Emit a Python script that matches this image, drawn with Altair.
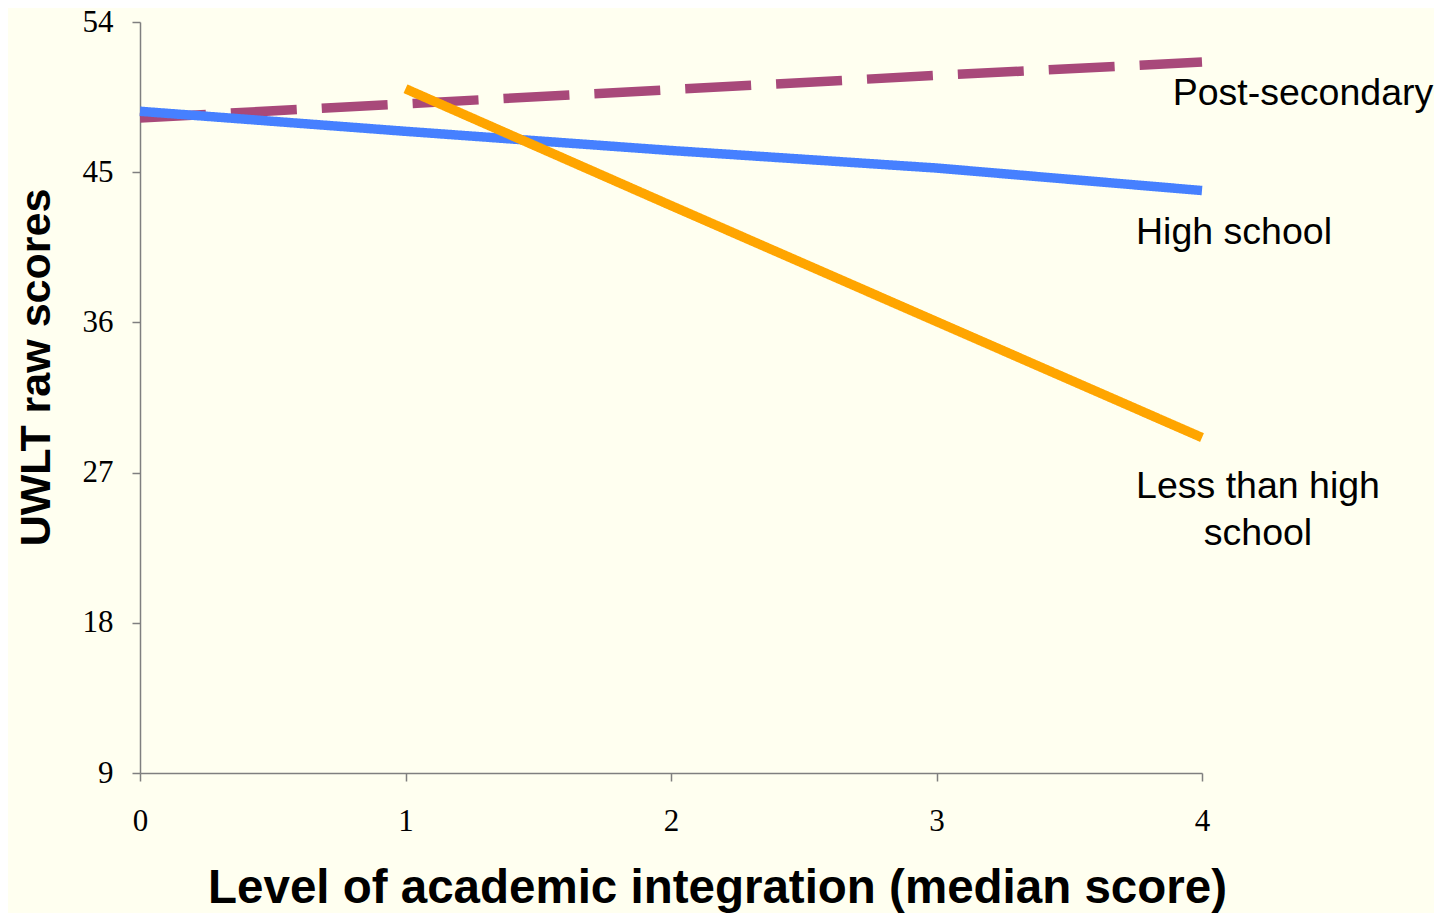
import altair as alt
import pandas as pd

# ---- data ----
x_levels = [0, 1, 2, 3, 4]
post_secondary = [48.25, 49.1, 49.95, 50.8, 51.6]
high_school = [48.65, 47.45, 46.3, 45.25, 43.9]
less_x = [1, 2, 3, 4]
less_than_hs = [50.0, 43.0, 36.05, 29.1]

series_names = ["Post-secondary", "High school", "Less than high school"]
series_colors = ["#A8497A", "#4680FF", "#FFA500"]
y_ticks = [9, 18, 27, 36, 45, 54]
x_ticks = [0, 1, 2, 3, 4]

rows = []
for xv, yv in zip(x_levels, post_secondary):
    rows.append({"x": xv, "y": yv, "series": series_names[0]})
for xv, yv in zip(x_levels, high_school):
    rows.append({"x": xv, "y": yv, "series": series_names[1]})
for xv, yv in zip(less_x, less_than_hs):
    rows.append({"x": xv, "y": yv, "series": series_names[2]})
df = pd.DataFrame(rows)

ends = pd.DataFrame({
    "x": [x_levels[-1], x_levels[-1], less_x[-1], less_x[-1]],
    "y": [post_secondary[-1], high_school[-1], less_than_hs[-1], less_than_hs[-1]],
    "label": ["Post-secondary", "High school", "Less than high", "school"],
})

xs = alt.Scale(domain=[0, 4], nice=False, zero=False)
ys = alt.Scale(domain=[9, 54], nice=False, zero=False)

lines = alt.Chart(df).mark_line(strokeWidth=9.5, clip=False).encode(
    x=alt.X("x:Q", scale=xs,
            axis=alt.Axis(values=x_ticks, format="d",
                          title="Level of academic integration (median score)",
                          labelPadding=25, labelBaseline="top", labelFlush=False,
                          titleX=577, titleY=129, titleBaseline="alphabetic",
                          titleAnchor="start", titleAlign="center")),
    y=alt.Y("y:Q", scale=ys,
            axis=alt.Axis(values=y_ticks, format="d",
                          title="UWLT raw scores",
                          labelPadding=19, labelBaseline="middle", labelFlush=False,
                          titleX=-91, titleY=345, titleAngle=270,
                          titleBaseline="alphabetic", titleAlign="center")),
    color=alt.Color("series:N", scale=alt.Scale(domain=series_names, range=series_colors), legend=None),
    strokeDash=alt.StrokeDash("series:N",
                              scale=alt.Scale(domain=series_names,
                                              range=[[66, 25], [1, 0], [1, 0]]),
                              legend=None),
    detail="series:N",
)

def label(name, dx, dy):
    return alt.Chart(ends).transform_filter(alt.datum.label == name).mark_text(
        font="Liberation Sans", fontSize=37.5, color="black", align="center",
        baseline="middle", dx=dx, dy=dy, clip=False
    ).encode(x=alt.X("x:Q", scale=xs), y=alt.Y("y:Q", scale=ys), text="label:N")

chart = alt.layer(
    lines,
    label("Post-secondary", 101, 32),
    label("High school", 32, 42),
    label("Less than high", 56, 49),
    label("school", 56, 96),
).properties(
    width=1062, height=751,
    autosize=alt.AutoSizeParams(type="none"),
    padding={"left": 132, "top": 14, "right": 232, "bottom": 140},
    background="#FFFFF0",
).configure_view(stroke=None).configure_axis(
    grid=False,
    domainColor="#7F7F7F", domainWidth=1.5,
    tickColor="#7F7F7F", tickWidth=1.5, tickSize=8,
    labelFont="Liberation Serif", labelFontSize=31, labelColor="black",
    titleFont="Liberation Sans", titleFontWeight="bold", titleColor="black",
).configure_axisX(titleFontSize=47.5).configure_axisY(titleFontSize=43)

chart.save("out.html", embed_options={"renderer": "svg", "actions": False})
